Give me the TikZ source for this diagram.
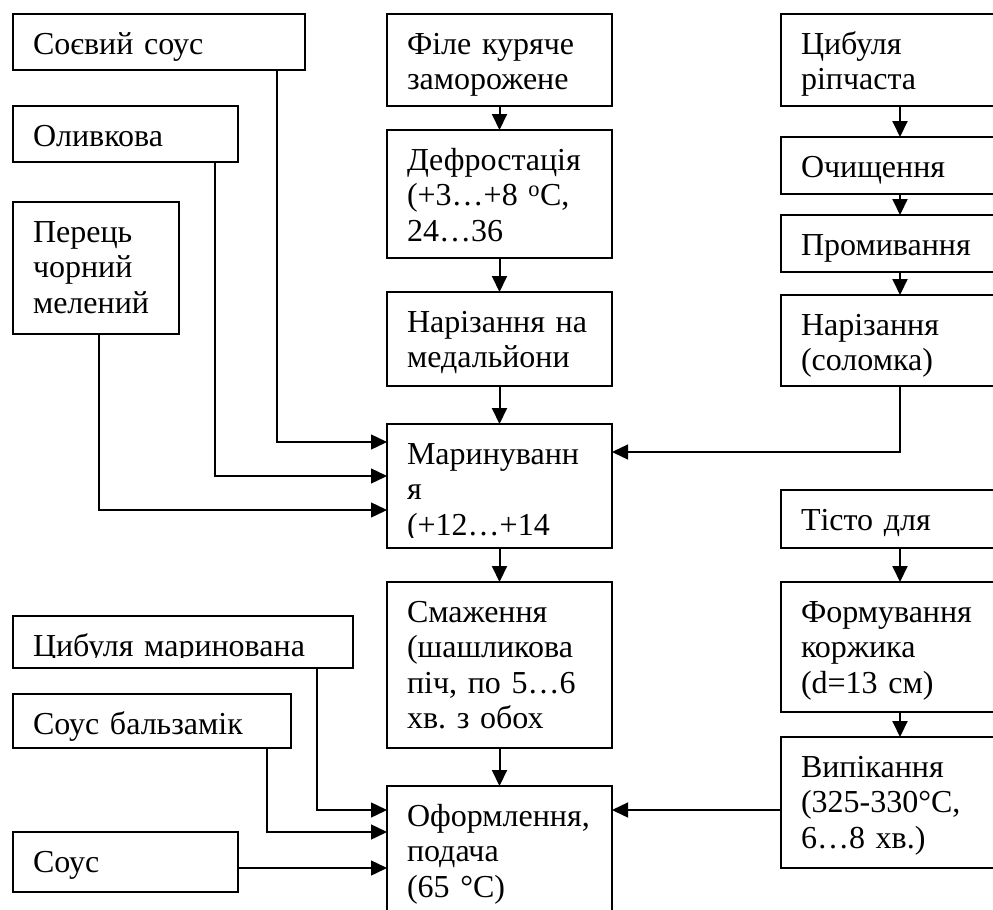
\documentclass[tikz,border=0pt]{standalone}
\usepackage{fontspec}
\setmainfont{Liberation Serif}
\frenchspacing
\usetikzlibrary{arrows.meta}

\tikzset{
  stage/.style={draw, line width=1.6pt, anchor=north west, inner xsep=20pt, inner ysep=0pt,
    outer sep=0pt, align=left, font=\fontsize{32}{35.5}\selectfont, text height=40pt},
  flow/.style={-{Triangle[length=16pt,width=15pt]}, line width=2pt},
  feed/.style={-{Triangle[length=16pt,width=15pt]}, line width=1.4pt},
}

\begin{document}
\begin{tikzpicture}[x=1pt,y=-1pt]
        \useasboundingbox (0,0) rectangle (993,910);
        \clip (0,0) rectangle (993,910);

        % === MARINADE INGREDIENTS ===
        \node[stage, text width=252pt, text depth=16pt] (soy) at (13,14) {Соєвий соус};
        \node[stage, text width=185pt, text depth=16pt] (olive) at (13,106) {Оливкова};
        \node[stage, text width=126pt, text depth=92pt] (pepper) at (13,202) {Перець\\чорний\\мелений};

        % === CHICKEN LINE ===
        \node[stage, text width=185pt, text depth=52pt] (fillet) at (387,14) {Філе куряче\\заморожене};
        \node[stage, text width=185pt, text depth=88pt] (defrost) at (387,130)
            {Дефростація\\(+3…+8 \textsuperscript{o}C,\\24…36};
        \node[stage, text width=185pt, text depth=54pt] (slice) at (387,292) {Нарізання на\\медальйони};
        \begin{scope}
            \clip (380,420) rectangle (620,537);
            \node[stage, draw=none, text width=185pt, text depth=84pt] (marinate) at (387,424)
                {Маринуванн\\я\\(+12…+14};
        \end{scope}
        \draw[line width=1.6pt] (marinate.north west) rectangle (marinate.south east);
        \node[stage, text width=185pt, text depth=126pt] (fry) at (387,582)
            {Смаження\\(шашликова\\піч, по 5…6\\хв. з обох};
        \node[stage, text width=185pt, text depth=104pt] (serve) at (387,786)
            {Оформлення,\\подача\\(65 °C)};

        % === ONION LINE ===
        \node[stage, text width=198pt, text depth=52pt] (onion) at (781,14) {Цибуля\\ріпчаста};
        \node[stage, text width=198pt, text depth=17pt] (peel) at (781,137) {Очищення};
        \node[stage, text width=198pt, text depth=17pt] (wash) at (781,215) {Промивання};
        \node[stage, text width=198pt, text depth=51pt] (cut) at (781,295) {Нарізання\\(соломка)};

        % === DOUGH LINE ===
        \node[stage, text width=198pt, text depth=18pt] (dough) at (781,490) {Тісто для};
        \node[stage, text width=198pt, text depth=90pt] (shape) at (781,582)
            {Формування\\коржика\\(d=13 см)};
        \node[stage, text width=198pt, text depth=91pt] (bake) at (781,737)
            {Випікання\\(325-330°C,\\6…8 хв.)};

        % === SERVING INGREDIENTS ===
        \begin{scope}
            \clip (5,610) rectangle (360,657);
            \node[stage, draw=none, text width=300pt, text depth=12pt] (pickled) at (13,616)
                {Цибуля маринована};
        \end{scope}
        \draw[line width=1.6pt] (pickled.north west) rectangle (pickled.south east);
        \node[stage, text width=238pt, text depth=14pt] (balsamic) at (13,694) {Соус бальзамік};
        \node[stage, text width=185pt, text depth=20pt] (sauce) at (13,832) {Соус};

        % === MAIN FLOW ===
        \draw[flow] (fillet) -- (defrost);
        \draw[flow] (defrost) -- (slice);
        \draw[flow] (slice) -- (marinate);
        \draw[flow] (marinate) -- (fry);
        \draw[flow] (fry) -- (serve);
        \draw[flow] (onion) -- (peel);
        \draw[flow] (peel) -- (wash);
        \draw[flow] (wash) -- (cut);
        \draw[flow] (dough) -- (shape);
        \draw[flow] (shape) -- (bake);

        % === SIDE FEEDS ===
        \draw[feed] (soy.south -| 277,0) |- (marinate.west |- 0,442);
        \draw[feed] (olive.south -| 215,0) |- (marinate.west |- 0,476);
        \draw[feed] (pepper.south -| 99,0) |- (marinate.west |- 0,510);
        \draw[feed] (cut.south) |- (marinate.east |- 0,452);
        \draw[feed] (pickled.south -| 317,0) |- (serve.west |- 0,810);
        \draw[feed] (balsamic.south -| 267,0) |- (serve.west |- 0,832);
        \draw[feed] (sauce.east |- 0,868) -- (serve.west |- 0,868);
        \draw[feed] (bake.west |- 0,810) -- (serve.east |- 0,810);

\end{tikzpicture}
\end{document}
